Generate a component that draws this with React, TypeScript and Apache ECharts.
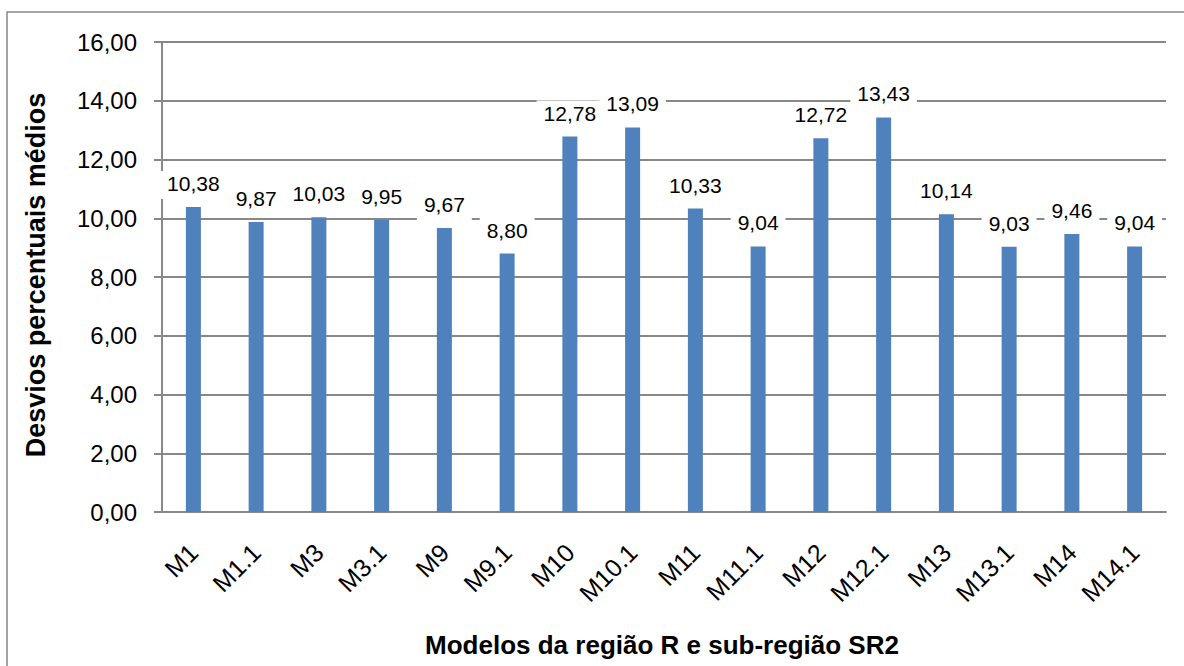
import React, { useEffect, useRef } from "react";
import * as echarts from "echarts";

const categories = ["M1", "M1.1", "M3", "M3.1", "M9", "M9.1", "M10", "M10.1", "M11", "M11.1", "M12", "M12.1", "M13", "M13.1", "M14", "M14.1"];
const values = [10.38, 9.87, 10.03, 9.95, 9.67, 8.8, 12.78, 13.09, 10.33, 9.04, 12.72, 13.43, 10.14, 9.03, 9.46, 9.04];
const yTitle = "Desvios percentuais médios";
const xTitle = "Modelos da região R e sub-região SR2";

const FONT = "Arial, 'Liberation Sans', sans-serif";
const fmt = (v: number) => v.toFixed(2).replace(".", ",");

export default function App() {
  const ref = useRef<HTMLDivElement>(null);
  useEffect(() => {
    document.body.style.margin = "0";
    const chart = echarts.init(ref.current!, null, { renderer: "svg" });
    chart.setOption({
      animation: false,
      backgroundColor: "#fff",
      textStyle: { fontFamily: FONT },
      grid: { left: 162, right: 18, top: 42, bottom: 154, containLabel: false },
      xAxis: {
        type: "category",
        data: categories,
        axisTick: { show: false },
        axisLine: { lineStyle: { color: "#888", width: 2 } },
        axisLabel: { rotate: 45, fontSize: 25, color: "#000", margin: 36, fontFamily: FONT },
      },
      yAxis: {
        type: "value",
        min: 0,
        max: 16,
        interval: 2,
        axisLine: { show: true, lineStyle: { color: "#888", width: 2 } },
        axisTick: { show: true, length: 8, lineStyle: { color: "#888", width: 2 } },
        splitLine: { lineStyle: { color: "#888", width: 2 } },
        axisLabel: { fontSize: 24, color: "#000", margin: 25, fontFamily: FONT, formatter: (v: number) => fmt(v) },
      },
      graphic: [
        {
          type: "rect",
          shape: { x: 7, y: 12, width: 1220, height: 720 },
          style: { fill: "none", stroke: "#888", lineWidth: 1.5 },
          silent: true,
        },
        {
          type: "text",
          x: 36,
          y: 275,
          rotation: Math.PI / 2,
          style: { text: yTitle, fontSize: 27, fontWeight: "bold", fill: "#000", fontFamily: FONT, textAlign: "center", textVerticalAlign: "middle" },
        },
        {
          type: "text",
          x: 662,
          y: 645,
          style: { text: xTitle, fontSize: 26, fontWeight: "bold", fill: "#000", fontFamily: FONT, textAlign: "center", textVerticalAlign: "middle" },
        },
      ],
      series: [
        {
          type: "bar",
          data: values,
          barWidth: 15,
          itemStyle: { color: "#4F81BD" },
          label: {
            show: true,
            position: "top",
            distance: 8,
            fontSize: 21,
            color: "#000",
            fontFamily: FONT,
            backgroundColor: "#fff",
            padding: [2, 7, 5, 7],
            formatter: (p: any) => fmt(p.value),
          },
        },
      ],
    });
    return () => chart.dispose();
  }, []);
  return <div ref={ref} style={{ width: 1184, height: 666 }} />;
}
